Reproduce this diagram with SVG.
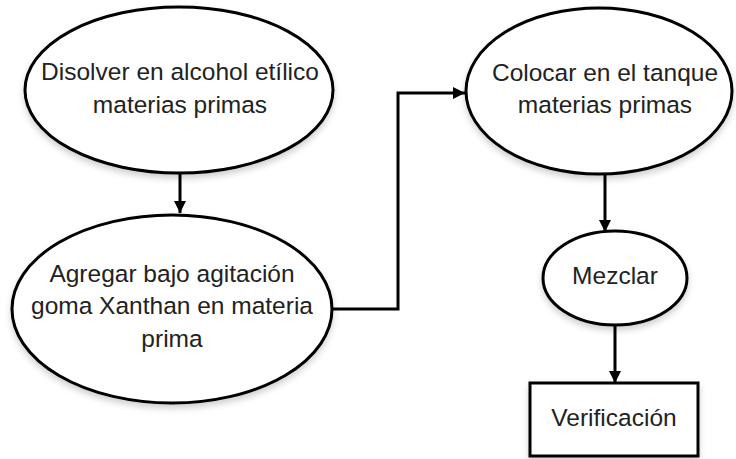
<svg xmlns="http://www.w3.org/2000/svg" width="736" height="459" viewBox="0 0 736 459">
<defs>
<style>
.n{fill:#fff;stroke:#000;stroke-width:3;filter:url(#sh)}
.t{font-family:"Liberation Sans",Arial,sans-serif;font-size:24.5px;fill:#222;text-anchor:middle}
.c{fill:none;stroke:#000;stroke-width:3}
</style>
<filter id="sh" x="-10%" y="-10%" width="120%" height="130%">
<feDropShadow dx="0" dy="4" stdDeviation="3" flood-color="#000" flood-opacity="0.18"/>
</filter>
<marker id="ah" viewBox="0 0 10 10" refX="10" refY="5" markerWidth="4" markerHeight="4.5" orient="auto" markerUnits="strokeWidth">
<path d="M0,0 L10,5 L0,10 Z" fill="#000"/>
</marker>
</defs>
<g id="connectors">
<path class="c" d="M180,173 V213" marker-end="url(#ah)"/>
<path class="c" d="M332,309 H398 V93 H465" marker-end="url(#ah)"/>
<path class="c" d="M605,174 V232" marker-end="url(#ah)"/>
<path class="c" d="M615,325 V383" marker-end="url(#ah)"/>
</g>
<g id="n1">
<ellipse class="n" cx="179" cy="90" rx="154" ry="83"/>
<text class="t" x="180" y="80">Disolver en alcohol etílico</text>
<text class="t" x="180" y="113">materias primas</text>
</g>
<g id="n2">
<ellipse class="n" cx="172" cy="309" rx="160" ry="94"/>
<text class="t" x="172" y="282">Agregar bajo agitación</text>
<text class="t" x="172" y="314">goma Xanthan en materia</text>
<text class="t" x="172" y="347">prima</text>
</g>
<g id="n3">
<ellipse class="n" cx="599" cy="91" rx="133" ry="83"/>
<text class="t" x="605" y="81">Colocar en el tanque</text>
<text class="t" x="605" y="113">materias primas</text>
</g>
<g id="n4">
<ellipse class="n" cx="615" cy="278" rx="72" ry="47"/>
<text class="t" x="615" y="284">Mezclar</text>
</g>
<g id="n5">
<rect class="n" x="530" y="383" width="168" height="73"/>
<text class="t" x="614" y="426">Verificación</text>
</g>
</svg>
